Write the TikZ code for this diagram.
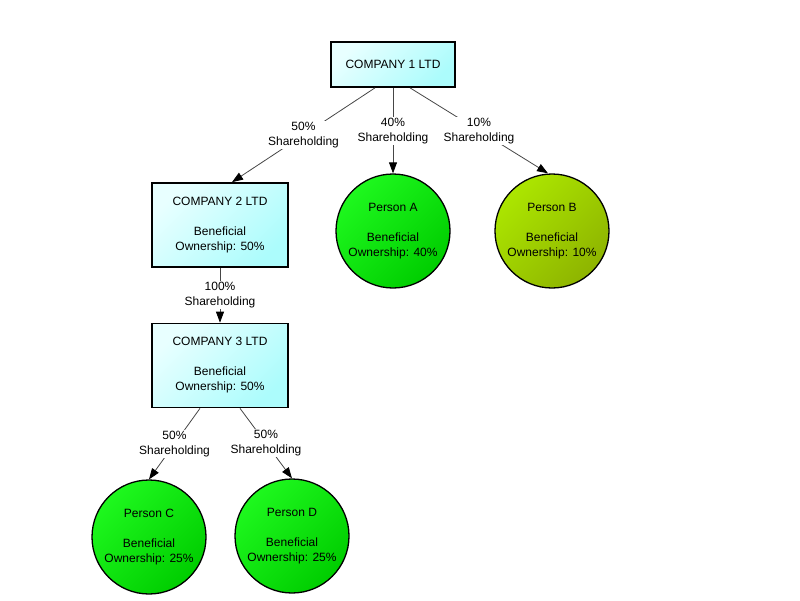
\documentclass[tikz,border=0pt]{standalone}
\usepackage{fontspec}
\setmainfont{Liberation Sans}
\usetikzlibrary{shapes,arrows}
\usetikzlibrary{arrows.meta}
\usetikzlibrary{positioning}

\definecolor{boxlight}{RGB}{232,255,255}
\definecolor{boxdark}{RGB}{172,252,252}
\definecolor{greenlight}{RGB}{30,248,30}
\definecolor{greendark}{RGB}{0,205,0}
\definecolor{limelight}{RGB}{172,230,0}
\definecolor{limedark}{RGB}{142,180,0}
\definecolor{edgegray}{RGB}{70,70,70}

\begin{document}
\begin{tikzpicture}[x=1pt, y=1pt, node distance = 160pt, font=\fontsize{12}{15}\selectfont]
    \tikzstyle{company} = [rectangle, draw, line width=1.7pt, align=center, inner sep=0pt, minimum width=136pt, minimum height=84pt, top color=boxlight, bottom color=boxdark, shading angle=45]
    \tikzstyle{person} = [circle, draw, line width=1.3pt, align=center, inner sep=0pt, minimum size=114pt, top color=greenlight, bottom color=greendark, shading angle=45]
    \tikzstyle{share} = [draw=edgegray, line width=0.8pt, -{Triangle[length=11pt,width=8pt,color=black]}]
    \tikzstyle{pct} = [fill=white, align=center, inner sep=1pt, midway]

    \useasboundingbox (0,0) rectangle (800,-600);

    \node [company, minimum width=124pt, minimum height=45pt] (c1) at (393,-64.5) {COMPANY 1 LTD};
    \node [company, below of=c1, node distance=160.5pt, xshift=-173pt] (c2) {COMPANY 2 LTD\\[15pt]Beneficial\\Ownership: 50\%};
    \node [company, below of=c2, node distance=140.5pt] (c3) {COMPANY 3 LTD\\[15pt]Beneficial\\Ownership: 50\%};
    \node [person, below of=c1, node distance=166.5pt] (pa) {Person A\\[15pt]Beneficial\\Ownership: 40\%};
    \node [person, right of=pa, node distance=159pt, top color=limelight, bottom color=limedark, shading angle=45] (pb) {Person B\\[15pt]Beneficial\\Ownership: 10\%};
    \node [person, below of=c3, node distance=171.5pt, xshift=-71pt] (pc) {Person C\\[15pt]Beneficial\\Ownership: 25\%};
    \node [person, below of=c3, node distance=170.5pt, xshift=72pt] (pd) {Person D\\[15pt]Beneficial\\Ownership: 25\%};

    \draw [share] ([xshift=-18pt]c1.south) -- node [pct] {50\%\\Shareholding} ([xshift=12pt]c2.north);
    \draw [share] (c1.south) -- node [pct] {40\%\\Shareholding} (pa.north);
    \draw [share] ([xshift=17pt]c1.south) -- node [pct] {10\%\\Shareholding} ([xshift=-4pt]pb.north);
    \draw [share] (c2.south) -- node [pct] {100\%\\Shareholding} (c3.north);
    \draw [share] ([xshift=-20pt]c3.south) -- node [pct] {50\%\\Shareholding} (pc.north);
    \draw [share] ([xshift=20pt]c3.south) -- node [pct] {50\%\\Shareholding} (pd.north);
  \end{tikzpicture}
\end{document}
